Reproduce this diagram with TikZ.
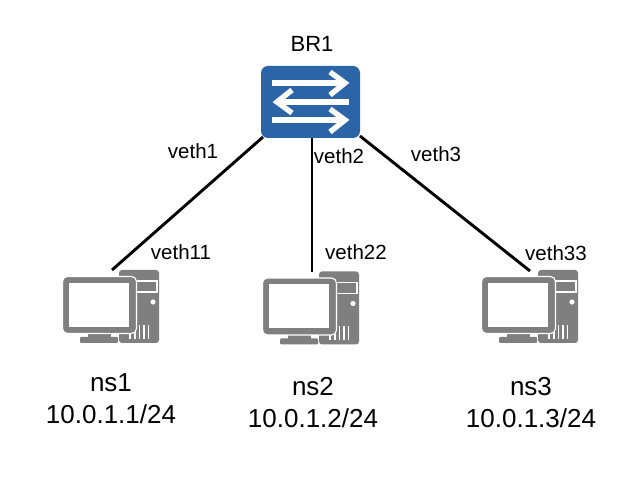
\documentclass[tikz,border=0pt]{standalone}
\usepackage{fontspec}
\setmainfont{Liberation Sans}
\definecolor{swblue}{HTML}{2C64A8}
\definecolor{pcgray}{HTML}{7F7F7F}
\tikzset{
  x=1pt,y=-1pt,
  link/.style={draw=black,line width=2.9pt},
  swbox/.style={fill=swblue,rounded corners=7pt,minimum width=99pt,minimum height=72pt,inner sep=0pt},
  swarrow/.style={draw=white,line width=5.4pt},
  smalllabel/.style={font=\fontsize{20.5}{24}\selectfont,inner sep=0pt},
  biglabel/.style={font=\fontsize{26}{32}\selectfont,align=center,inner sep=0pt},
  pcanchor/.style={minimum width=96pt,minimum height=73pt,inner sep=0pt},
  pc/.pic={
    \fill[pcgray,rounded corners=3pt] (119,270) rectangle (159,343);
    \draw[white,line width=1.2pt] (136,281) rectangle (157,292);
    \fill[white] (153,302) circle (2.6);
    \foreach \sx in {130,135,139.5,144,148.5}{\draw[white,line width=1.2pt] (\sx,325) -- (\sx,339);}
    \fill[pcgray,rounded corners=1pt] (80,337) rectangle (118,343);
    \fill[pcgray] (88,332) rectangle (111,338);
    \fill[pcgray,draw=white,line width=1.1pt,rounded corners=5pt] (62.5,276.5) rectangle (136.5,333.5);
    \fill[white] (69,283) rectangle (129,327);
  }
}
\begin{document}
\begin{tikzpicture}
\useasboundingbox (0,0) rectangle (638,478);
\fill[white] (0,0) rectangle (638,478);
% computers
\pic at (0,0) {pc};
\pic at (200,1.5) {pc};
\pic at (419,0) {pc};
\node[pcanchor] (ns1) at (111,306.5) {};
\node[pcanchor] (ns2) at (311,308) {};
\node[pcanchor] (ns3) at (530,306.5) {};
% switch
\node[swbox] (br) at (310.5,102) {};
\draw[swarrow] (272,83) -- (344,83);
\draw[swarrow] (330,72) -- (345,83) -- (330,95);
\draw[swarrow] (349,102) -- (277,102);
\draw[swarrow] (292,90) -- (277,102) -- (292,113);
\draw[swarrow] (272,120) -- (344,120);
\draw[swarrow] (330,109) -- (345,120) -- (330,132);
% connectors
\coordinate (p1) at (263,137);
\coordinate (p2) at (312,138);
\coordinate (p3) at (360,136);
\coordinate (q1) at (112,270);
\coordinate (q2) at (312,272);
\coordinate (q3) at (530,271);
\draw[link] (p1) -- (q1);
\draw[link] (p2) -- (q2);
\draw[link] (p3) -- (q3);
% labels
\node[font=\fontsize{22}{26}\selectfont,inner sep=0pt] (brl) at (312,44) {BR1};
\node[smalllabel] (l1) at (193,151) {veth1};
\node[smalllabel] (l2) at (339,156) {veth2};
\node[smalllabel] (l3) at (436,154) {veth3};
\node[smalllabel] (l11) at (181,252) {veth11};
\node[smalllabel] (l22) at (356,252) {veth22};
\node[smalllabel] (l33) at (556,253) {veth33};
\node[biglabel] (n1) at (111,399) {ns1\\10.0.1.1/24};
\node[biglabel] (n2) at (313,403) {ns2\\10.0.1.2/24};
\node[biglabel] (n3) at (531,403) {ns3\\10.0.1.3/24};
\end{tikzpicture}
\end{document}
